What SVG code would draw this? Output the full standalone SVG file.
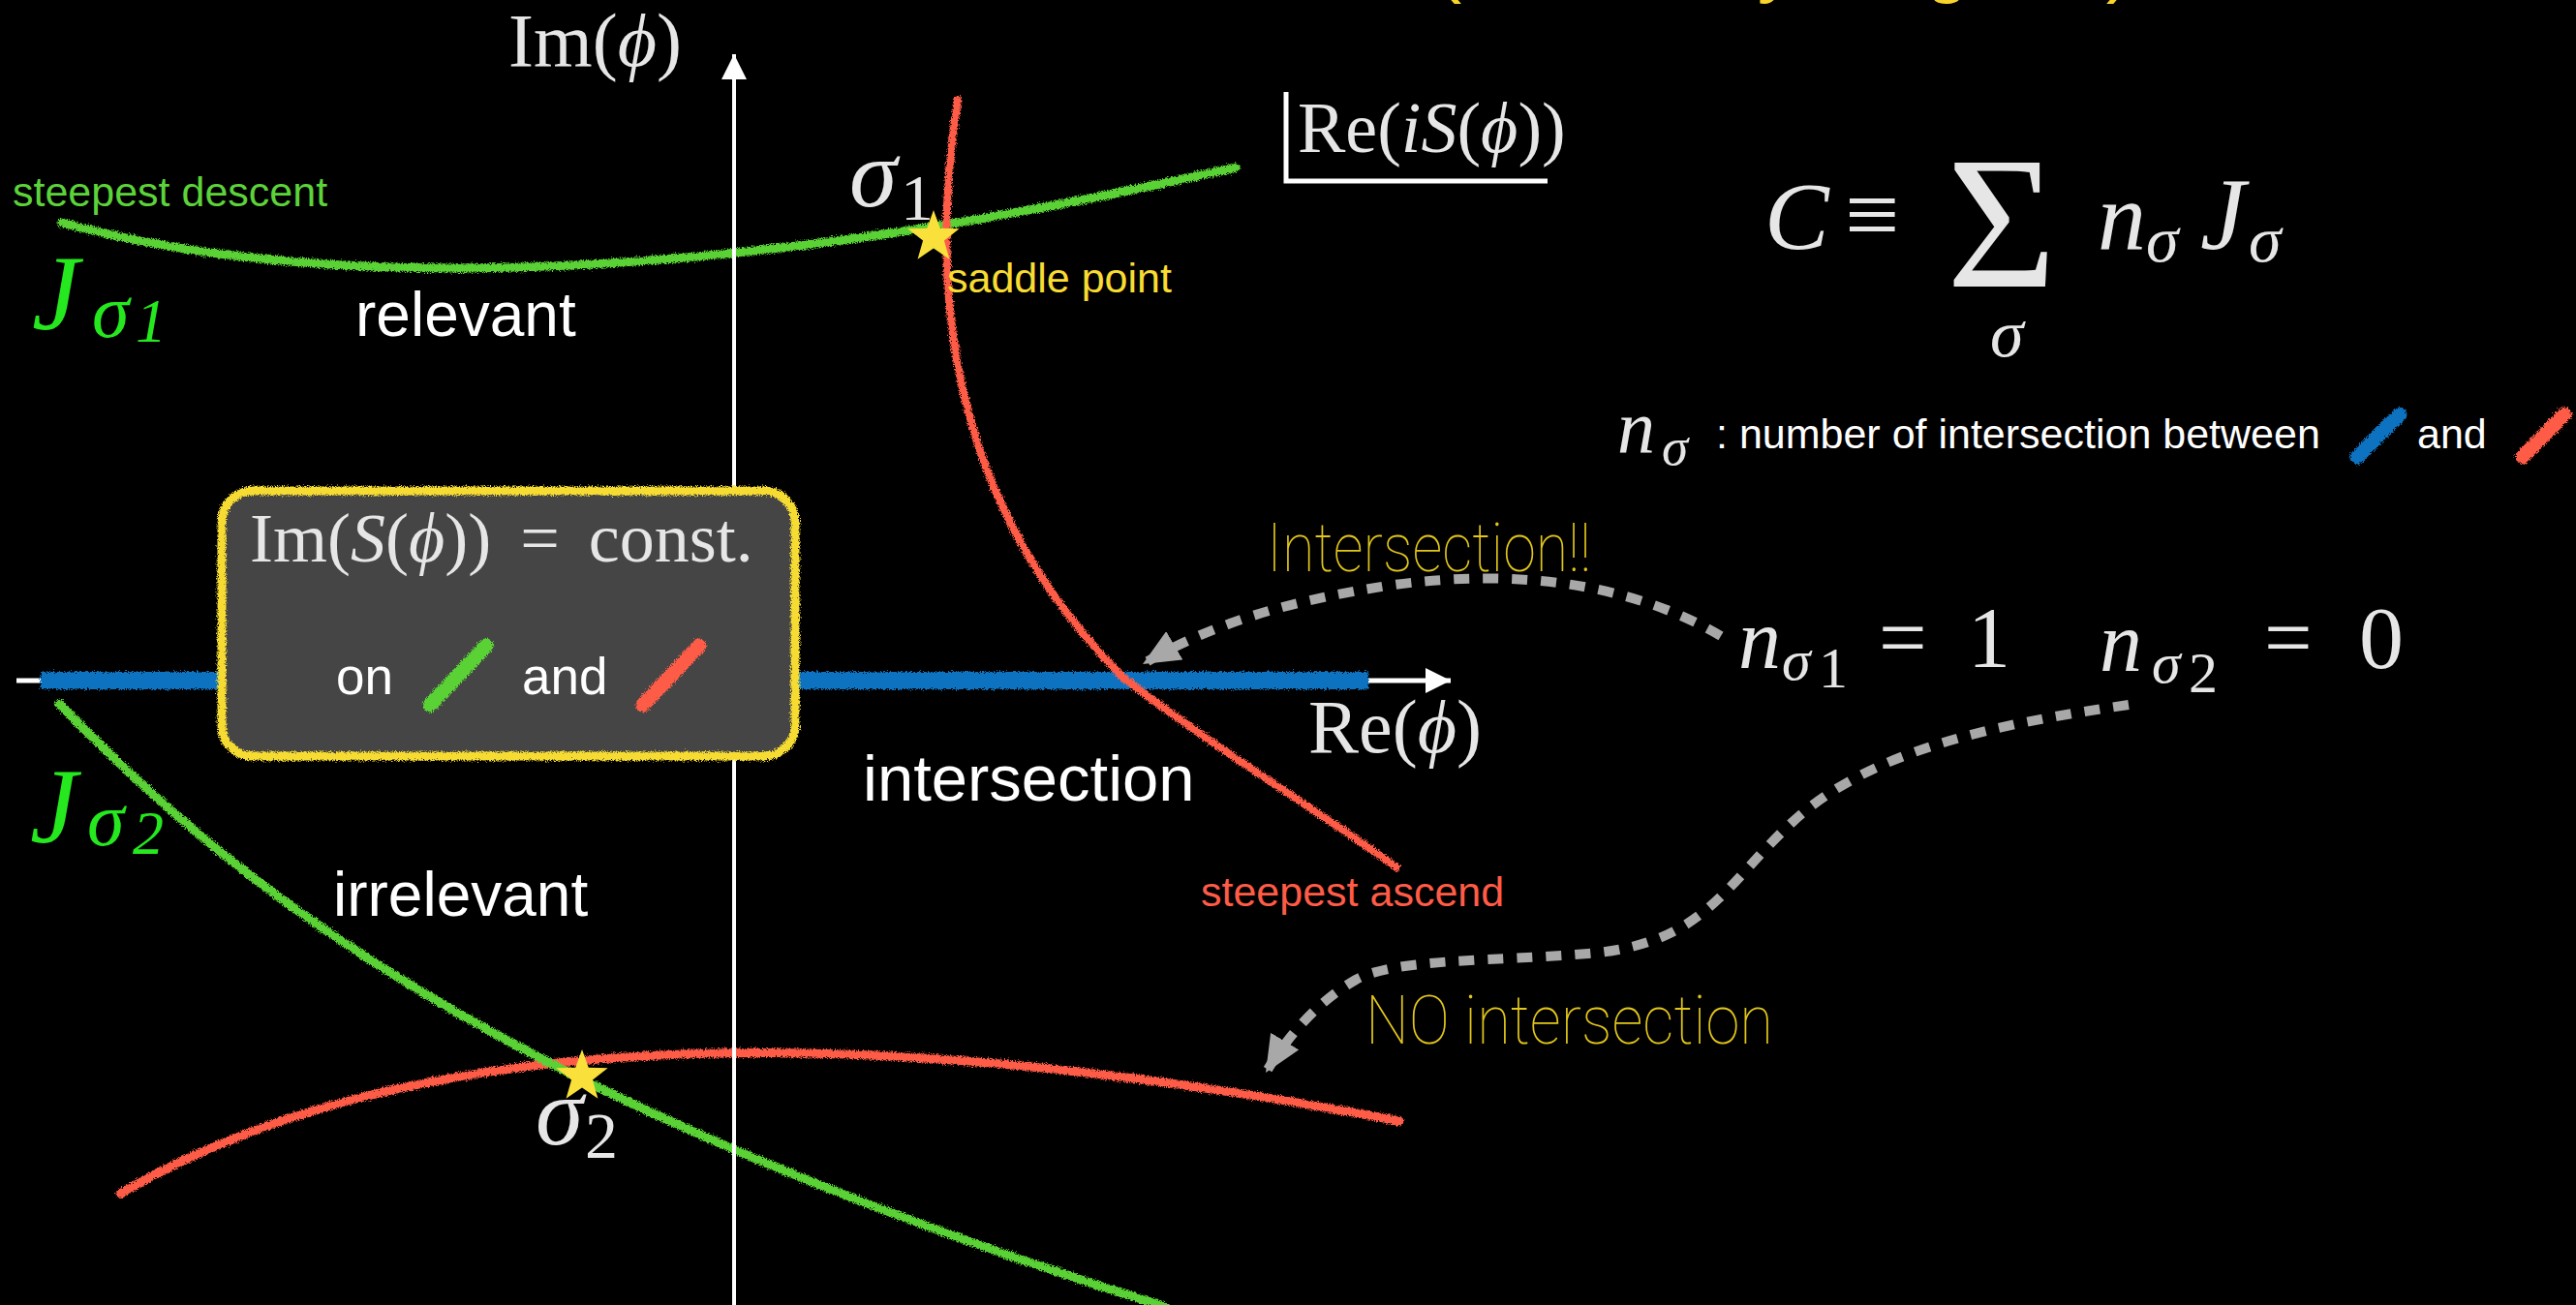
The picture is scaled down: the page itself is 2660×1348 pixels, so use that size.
<svg xmlns="http://www.w3.org/2000/svg" width="2660" height="1348" viewBox="0 0 2660 1348">
<defs>
<style>
.sans{font-family:"Liberation Sans","Helvetica Neue",Arial,sans-serif}
.m{font-family:"Liberation Serif","DejaVu Serif",serif;fill:#E6E6E6}
.it{font-style:italic}
.thin{font-family:Roboto,"Liberation Sans",sans-serif;font-weight:100;fill:#E2C61A}
.lbl{font-family:"Liberation Sans","Helvetica Neue",Arial,sans-serif;fill:#FFFFFF}
.grn{stroke:#5AD236;fill:none;stroke-linecap:round}
.red{stroke:#FF5C47;fill:none;stroke-linecap:round}
.blu{stroke:#0B72C0;fill:none}
.dash{stroke:#A8A8A8;stroke-width:10;fill:none;stroke-dasharray:16 14}
.jg{font-family:"Liberation Serif","DejaVu Serif",serif;font-style:italic;fill:#25E81E}
</style>
<filter id="chalk" filterUnits="userSpaceOnUse" x="0" y="0" width="2660" height="1348">
<feTurbulence type="fractalNoise" baseFrequency="1.2" numOctaves="2" seed="3" result="n"/>
<feDisplacementMap in="SourceGraphic" in2="n" scale="7" xChannelSelector="R" yChannelSelector="G"/>
</filter>
<path id="star" d="M0,-28 L6.76,-9.3 L26.63,-8.65 L10.94,3.55 L16.46,22.65 L0,11.5 L-16.46,22.65 L-10.94,3.55 L-26.63,-8.65 L-6.76,-9.3 Z" fill="#F9E03A"/>
<marker id="ah" markerUnits="userSpaceOnUse" markerWidth="40" markerHeight="34" refX="38" refY="17" orient="auto" viewBox="0 0 40 34">
<path d="M0,0 L38,17 L0,34 Z" fill="#A8A8A8"/>
</marker>
<marker id="axh" markerUnits="userSpaceOnUse" markerWidth="28" markerHeight="26" refX="26" refY="13" orient="auto" viewBox="0 0 28 26">
<path d="M0,0 L26,13 L0,26 Z" fill="#FFFFFF"/>
</marker>
</defs>
<rect x="0" y="0" width="2660" height="1348" fill="#000000"/>

<text class="sans" x="1482" y="-13" font-size="82" fill="#F8D32A">(shown by diagram)</text>

<g id="axes">
<line x1="17" y1="703" x2="1498" y2="703" stroke="#FFFFFF" stroke-width="5" marker-end="url(#axh)"/>
<path id="blue-band" class="blu" d="M42,703 L1413,703" stroke-width="18" filter="url(#chalk)"/>
</g>

<g id="curves">
<path id="J-sigma1" class="grn" stroke-width="9" filter="url(#chalk)" d="M64,230 C320,300 720,300 1276,173"/>
<path id="K-sigma1" class="red" stroke-width="8" filter="url(#chalk)" d="M989,103 C958,300 980,520 1160,700 C1250,770 1380,850 1442,896"/>
<path id="K-sigma2" class="red" stroke-width="9" filter="url(#chalk)" d="M124,1233 C420,1060 880,1050 1445,1158"/>
<path id="J-sigma2" class="grn" stroke-width="9" filter="url(#chalk)" d="M61,727 C240,910 500,1130 1204,1350"/>
</g>

<g id="im-axis">
<line x1="758" y1="1348" x2="758" y2="56" stroke="#FFFFFF" stroke-width="4" marker-end="url(#axh)"/>
</g>

<g id="const-box">
<rect x="229" y="507" width="592" height="274" rx="32" fill="#444444" stroke="#F6DC30" stroke-width="9" filter="url(#chalk)"/>
<text class="m" x="258" y="580" font-size="72" word-spacing="12">Im(<tspan class="it">S</tspan>(<tspan class="it">ϕ</tspan>)) = const.</text>
<text class="lbl" x="347" y="717" font-size="53">on</text>
<line class="grn" x1="444" y1="728" x2="502" y2="667" stroke-width="15" filter="url(#chalk)"/>
<text class="lbl" x="539" y="717" font-size="53">and</text>
<line class="red" x1="664" y1="728" x2="722" y2="667" stroke-width="15" filter="url(#chalk)"/>
</g>

<g id="saddle1">
<use href="#star" x="964" y="245"/>
<text class="m it" x="877" y="213" font-size="100">σ</text>
<text class="m" x="930" y="227" font-size="68">1</text>
<text class="sans" x="978" y="302" font-size="43" fill="#F8DC32">saddle point</text>
</g>

<g id="saddle2">
<use href="#star" x="601" y="1112"/>
<text class="m it" x="553" y="1182" font-size="100">σ</text>
<text class="m" x="604" y="1196" font-size="68">2</text>
</g>

<g id="labels">
<text class="m" x="525" y="68" font-size="78">Im(<tspan class="it">ϕ</tspan>)</text>
<path d="M1328,95 V187 H1598" fill="none" stroke="#FFFFFF" stroke-width="5"/>
<text class="m" x="1340" y="157" font-size="74">Re(<tspan class="it">iS</tspan>(<tspan class="it">ϕ</tspan>))</text>
<text class="m" x="1351" y="777" font-size="78">Re(<tspan class="it">ϕ</tspan>)</text>
<text class="sans" x="13" y="213" font-size="43" fill="#5CD33A">steepest descent</text>
<text class="sans" x="1240" y="936" font-size="43" fill="#FF5B47">steepest ascend</text>
<text class="jg" x="33" y="340" font-size="110">J</text>
<text class="jg" x="95" y="348" font-size="78">σ</text>
<text class="jg" x="140" y="353" font-size="64" font-style="normal">1</text>
<text class="jg" x="31" y="870" font-size="110">J</text>
<text class="jg" x="90" y="873" font-size="78">σ</text>
<text class="jg" x="137" y="882" font-size="64" font-style="normal">2</text>
<text class="lbl" x="367" y="347" font-size="64">relevant</text>
<text class="lbl" x="344" y="946" font-size="64">irrelevant</text>
<text class="lbl" x="891" y="827" font-size="67">intersection</text>
<text class="thin" x="1308" y="590" font-size="70" textLength="335" lengthAdjust="spacingAndGlyphs">Intersection!!</text>
<text class="thin" x="1410" y="1078" font-size="70" textLength="421" lengthAdjust="spacingAndGlyphs">NO intersection</text>
</g>

<g id="formula">
<text class="m it" x="1822" y="257" font-size="100">C</text>
<text class="m" x="1905" y="255" font-size="100">≡</text>
<text class="m" x="2010" y="296" font-size="195">Σ</text>
<text class="m it" x="2166" y="257" font-size="100">n</text>
<text class="m it" x="2216" y="270" font-size="68">σ</text>
<text class="m it" x="2272" y="257" font-size="105">J</text>
<text class="m it" x="2322" y="270" font-size="68">σ</text>
<text class="m it" x="2055" y="368" font-size="70">σ</text>
</g>

<g id="n-def">
<text class="m it" x="1670" y="468" font-size="78">n</text>
<text class="m it" x="1716" y="480" font-size="55">σ</text>
<text class="lbl" x="1772" y="463" font-size="43">: number of intersection between</text>
<line class="blu" x1="2434" y1="472" x2="2478" y2="428" stroke-width="15" stroke-linecap="round" filter="url(#chalk)"/>
<text class="lbl" x="2496" y="463" font-size="43">and</text>
<line class="red" x1="2605" y1="472" x2="2648" y2="428" stroke-width="15" filter="url(#chalk)"/>
</g>

<g id="n-values">
<text class="m it" x="1795" y="690" font-size="88">n</text>
<text class="m it" x="1840" y="702" font-size="60">σ</text>
<text class="m" x="1878" y="710" font-size="60">1</text>
<text class="m" x="1940" y="688" font-size="88">=</text>
<text class="m" x="2032" y="688" font-size="88">1</text>
<text class="m it" x="2168" y="693" font-size="88">n</text>
<text class="m it" x="2222" y="705" font-size="60">σ</text>
<text class="m" x="2260" y="715" font-size="60">2</text>
<text class="m" x="2338" y="688" font-size="88">=</text>
<text class="m" x="2436" y="690" font-size="92">0</text>
</g>

<g id="connectors">
<path class="dash" d="M1777,657 C1680,600 1560,588 1440,604 C1330,620 1250,645 1180,686" marker-end="url(#ah)"/>
<path class="dash" d="M2198,728 C2060,748 1930,775 1850,850 C1780,915 1760,975 1640,985 C1540,993 1440,990 1400,1012 C1360,1035 1330,1070 1307,1108" marker-end="url(#ah)"/>
</g>
</svg>
